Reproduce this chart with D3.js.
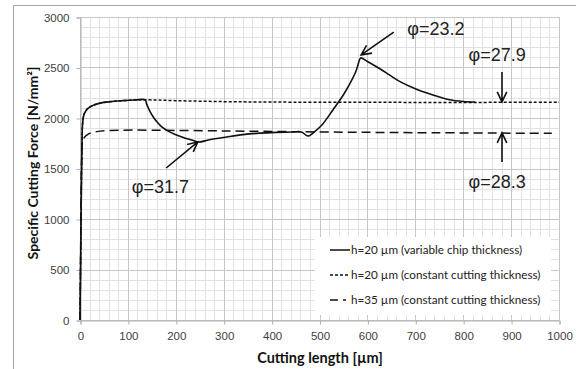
<!DOCTYPE html>
<html>
<head>
<meta charset="utf-8">
<script src="https://cdn.jsdelivr.net/npm/d3@7"></script>
<style>
  body { margin: 0; background: #fff; }
  svg { display: block; font-family: Lato, "Open Sans", sans-serif; }
  .tick text { fill: #404040; font-size: 11.5px; }
  .note { font-family: "Liberation Sans", Arial, sans-serif; font-size: 18px; fill: #222; }
</style>
</head>
<body>
<div id="chart"><svg></svg></div>
<script>
// h=20 µm, variable chip thickness (solid)
var varLen   = [0, 2, 4, 5.5, 8, 12, 18, 27, 40, 63, 90, 115, 136, 139, 143, 148, 154, 161, 170, 185, 200, 220, 235, 248,
                270, 306, 340, 375, 410, 445, 462, 476, 490, 505, 528, 550, 564, 575, 580, 583, 586,
                600, 620, 645, 668, 700, 737, 772, 800, 825];
var varForce = [0, 900, 1700, 1950, 2030, 2070, 2100, 2125, 2145, 2162, 2172, 2178, 2180, 2140, 2095, 2048, 2003, 1960, 1915, 1868, 1835, 1800, 1780, 1762,
                1785, 1812, 1835, 1850, 1858, 1862, 1862, 1822, 1865, 1930, 2080, 2230, 2345, 2450, 2520, 2570, 2595,
                2560, 2505, 2430, 2360, 2290, 2228, 2180, 2163, 2158];
// h=20 µm, constant cutting thickness (dotted)
var c20Len   = [0, 2, 4, 5.5, 8, 12, 18, 27, 40, 63, 90, 115, 136, 200, 300, 400, 600, 1000];
var c20Force = [0, 900, 1700, 1950, 2030, 2070, 2100, 2125, 2145, 2162, 2172, 2178, 2180, 2172, 2162, 2158, 2155, 2155];
// h=35 µm, constant cutting thickness (dashed)
var c35Len   = [0, 1, 2, 3.5, 6, 10, 14, 20, 35, 60, 110, 300, 500, 700, 985];
var c35Force = [0, 500, 1100, 1600, 1780, 1812, 1830, 1848, 1865, 1876, 1880, 1872, 1862, 1855, 1848];

var xTicks = [0, 100, 200, 300, 400, 500, 600, 700, 800, 900, 1000];
var yTicks = [0, 500, 1000, 1500, 2000, 2500, 3000];
var legendLabels = ["h=20 \u00b5m (variable chip thickness)",
                    "h=20 \u00b5m (constant cutting thickness)",
                    "h=35 \u00b5m (constant cutting thickness)"];
// annotations: label, label position, arrow tail, arrow tip (data units)
var noteLabels = ["\u03c6=23.2", "\u03c6=27.9", "\u03c6=28.3", "\u03c6=31.7"];
var noteAt     = [[743, 2822], [871, 2569], [871, 1302], [168, 1262]];
var noteFrom   = [[655, 2851], [881, 2455], [881, 1564], [180, 1505]];
var noteTo     = [[587, 2625], [881, 2160], [881, 1852], [246, 1764]];

var width = 576, height = 369;
var svg = d3.select("#chart svg").attr("width", width).attr("height", height);

var x = d3.scaleLinear().domain([0, 1000]).range([80, 559]);
var y = d3.scaleLinear().domain([0, 3000]).range([320, 17]);

// outer chart border
svg.append("rect").attr("x", 13.5).attr("y", 5.5).attr("width", 600).attr("height", 400)
   .attr("fill", "none").attr("stroke", "#a6a6a6");

// minor grid
var grid = svg.append("g");
grid.selectAll(".mx").data(d3.range(0, 1001, 20)).enter().append("line")
   .attr("x1", function(d) { return Math.round(x(d)) + 0.5; })
   .attr("x2", function(d) { return Math.round(x(d)) + 0.5; })
   .attr("y1", y(0)).attr("y2", y(3000)).attr("stroke", "#e2e2e2");
grid.selectAll(".my").data(d3.range(0, 3001, 100)).enter().append("line")
   .attr("y1", function(d) { return Math.round(y(d)) + 0.5; })
   .attr("y2", function(d) { return Math.round(y(d)) + 0.5; })
   .attr("x1", x(0)).attr("x2", x(1000)).attr("stroke", "#e2e2e2");
// major grid
grid.selectAll(".Mx").data(xTicks).enter().append("line")
   .attr("x1", function(d) { return Math.round(x(d)) + 0.5; })
   .attr("x2", function(d) { return Math.round(x(d)) + 0.5; })
   .attr("y1", y(0)).attr("y2", y(3000)).attr("stroke", "#c6c6c6");
grid.selectAll(".My").data(yTicks).enter().append("line")
   .attr("y1", function(d) { return Math.round(y(d)) + 0.5; })
   .attr("y2", function(d) { return Math.round(y(d)) + 0.5; })
   .attr("x1", x(0)).attr("x2", x(1000)).attr("stroke", "#c6c6c6");

// axes
svg.append("g").attr("transform", "translate(0.5," + (Math.round(y(0)) + 0.5) + ")")
   .call(d3.axisBottom(x).tickValues(xTicks).tickSize(4).tickPadding(7).tickFormat(d3.format("d")));
svg.append("g").attr("transform", "translate(" + (Math.round(x(0)) + 0.5) + ",0.5)")
   .call(d3.axisLeft(y).tickValues(yTicks).tickSize(4).tickPadding(7).tickFormat(d3.format("d")));
svg.selectAll(".domain").attr("stroke", "#b0b0b0");
svg.selectAll(".tick line").attr("stroke", "#b0b0b0");

// legend box
var legend = svg.append("g");
legend.append("rect").attr("x", 315).attr("y", 237).attr("width", 236).attr("height", 78).attr("fill", "#fff");

// series
var series = [
  { xs: c20Len, ys: c20Force, dash: "3,2", w: 1.5 },
  { xs: c35Len, ys: c35Force, dash: "9,5", w: 1.5 },
  { xs: varLen, ys: varForce, dash: null, w: 1.6 }
];
var line = d3.line().x(function(d) { return x(d[0]); }).y(function(d) { return y(d[1]); })
   .curve(d3.curveCatmullRom.alpha(0.5));
series.forEach(function(s) {
  svg.append("path").datum(d3.zip(s.xs, s.ys))
     .attr("d", line).attr("fill", "none").attr("stroke", "#111")
     .attr("stroke-width", s.w).attr("stroke-dasharray", s.dash);
});

// legend entries
var legDash = [null, "3,2", "8,5,3"];
var legY = [250, 275, 300];
legendLabels.forEach(function(t, i) {
  legend.append("line").attr("x1", 330).attr("x2", 350).attr("y1", legY[i]).attr("y2", legY[i])
     .attr("stroke", "#111").attr("stroke-width", 1.5).attr("stroke-dasharray", legDash[i]);
  legend.append("text").attr("x", 351).attr("y", legY[i]).attr("dy", "0.35em")
     .attr("font-size", "11.7px").attr("fill", "#222").text(t);
});

// annotations
noteLabels.forEach(function(t, i) {
  svg.append("text").attr("class", "note").attr("x", x(noteAt[i][0])).attr("y", y(noteAt[i][1]))
     .attr("text-anchor", "middle").text(t);
  var x0 = x(noteFrom[i][0]), y0 = y(noteFrom[i][1]), x1 = x(noteTo[i][0]), y1 = y(noteTo[i][1]);
  var a = Math.atan2(y1 - y0, x1 - x0), L = 11, s = 0.45;
  var p = "M" + x0 + "," + y0 + "L" + x1 + "," + y1 +
          "M" + (x1 - L * Math.cos(a - s)) + "," + (y1 - L * Math.sin(a - s)) + "L" + x1 + "," + y1 +
          "L" + (x1 - L * Math.cos(a + s)) + "," + (y1 - L * Math.sin(a + s));
  svg.append("path").attr("d", p).attr("fill", "none").attr("stroke", "#111").attr("stroke-width", 1.6);
});

// axis titles
svg.append("text").attr("x", 320).attr("y", 363).attr("text-anchor", "middle")
   .attr("font-weight", "bold").attr("font-size", "14.5px").attr("fill", "#111").text("Cutting length [\u00b5m]");
svg.append("text").attr("transform", "translate(38,163) rotate(-90)").attr("text-anchor", "middle")
   .attr("font-weight", "bold").attr("font-size", "14px").attr("fill", "#111")
   .text("Specific Cutting Force [N/mm\u00b2]");
</script>
</body>
</html>
